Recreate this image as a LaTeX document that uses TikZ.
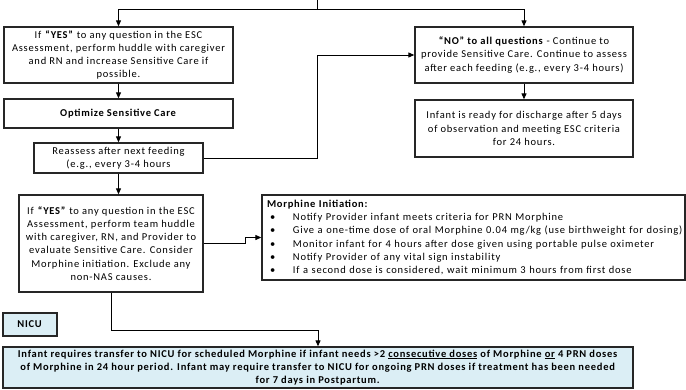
\documentclass[tikz,border=0pt]{standalone}
\usepackage{fontspec}
\setmainfont{Carlito}[LetterSpace=7.4, BoldFeatures={LetterSpace=7}]
\usetikzlibrary{arrows.meta, positioning}
\definecolor{nicublue}{RGB}{219,238,245}

\begin{document}
\begin{tikzpicture}[x=1pt,y=-1pt,on grid,
        >={Triangle[length=6pt,width=5pt]}, line width=1pt,
        every node/.style={font=\fontsize{10.5}{13.3}\selectfont, align=center, inner sep=0pt},
        box/.style={draw=black!85, line width=1.3pt, fill=white},
        bluebox/.style={box, fill=nicublue}]
        \useasboundingbox (0,0) rectangle (686,389);

        \node[box, minimum width=229pt, minimum height=56pt] (yes_1) at (118.5,55)
            {If \textbf{``YES''} to any question in the ESC\\Assessment, perform huddle with caregiver\\and RN and increase Sensitive Care if\\possible.};
        \node[box, minimum width=229pt, minimum height=29pt] (opt)  [below=58.5pt of yes_1]
            {\textbf{Optimize Sensitive Care}};
        \node[box, minimum width=169pt, minimum height=30pt] (reas) [below=44.5pt of opt]
            {Reassess after next feeding\\(e.g., every 3-4 hours};
        \node[box, minimum width=218pt, minimum height=56pt] (no_1) at (524,55)
            {\textbf{``NO'' to all questions} - Continue to\\provide Sensitive Care. Continue to assess\\after each feeding (e.g., every 3-4 hours)};
        \node[box, minimum width=218pt, minimum height=57pt] (dis)  [below=73.5pt of no_1]
            {Infant is ready for discharge after 5 days\\of observation and meeting ESC criteria\\for 24 hours.};
        \node[box, minimum width=184pt, minimum height=97pt] (yes_2) at (111,243.5)
            {If \textbf{``YES''} to any question in the ESC\\Assessment, perform team huddle\\with caregiver, RN, and Provider to\\evaluate Sensitive Care. Consider\\Morphine initiation. Exclude any\\non-NAS causes.};
        \node[box, text width=413pt, minimum height=85pt, inner xsep=5pt, align=left] (morph) at (473.5,237.5)
            {\textbf{Morphine Initiation:}\\
            \hspace*{3pt}\makebox[23pt][l]{\textbullet}Notify Provider infant meets criteria for PRN Morphine\\
            \hspace*{3pt}\makebox[23pt][l]{\textbullet}Give a one-time dose of oral Morphine 0.04 mg/kg (use birthweight for dosing)\\
            \hspace*{3pt}\makebox[23pt][l]{\textbullet}Monitor infant for 4 hours after dose given using portable pulse oximeter\\
            \hspace*{3pt}\makebox[23pt][l]{\textbullet}Notify Provider of any vital sign instability\\
            \hspace*{3pt}\makebox[23pt][l]{\textbullet}If a second dose is considered, wait minimum 3 hours from first dose};
        \node[bluebox, minimum width=54pt, minimum height=23pt] (nicu) at (30,324.5) {\textbf{NICU}};
        \node[bluebox, minimum width=630pt, minimum height=41pt] (trans) at (318,367.5)
            {\textbf{Infant requires transfer to NICU for scheduled Morphine if infant needs >2 \underline{consecutive doses} of Morphine \underline{or} 4 PRN doses}\\
            \textbf{of Morphine in 24 hour period. Infant may require transfer to NICU for ongoing PRN doses if treatment has been needed}\\
            \textbf{for 7 days in Postpartum.}};

        \coordinate (top)   at (317,0);
        \coordinate (split) at (317,9);

        \draw (top) -- (split);
        \draw[->] (split) -| (yes_1.north);
        \draw[->] (split) -| (no_1.north);
        \path[->] (yes_1) edge (opt)
            (opt) edge (reas)
            (no_1) edge (dis)
            (reas.south) edge (reas.south |- yes_2.north);
        \draw[->] (reas.east) -- (reas.east -| split) |- (no_1.west);
        \draw[->] (yes_2.east) -- ++(42,0) |- (morph.west);
        \draw[->] (yes_2.south) -- ++(0,38) -| (trans.north);
    \end{tikzpicture}
\end{document}
